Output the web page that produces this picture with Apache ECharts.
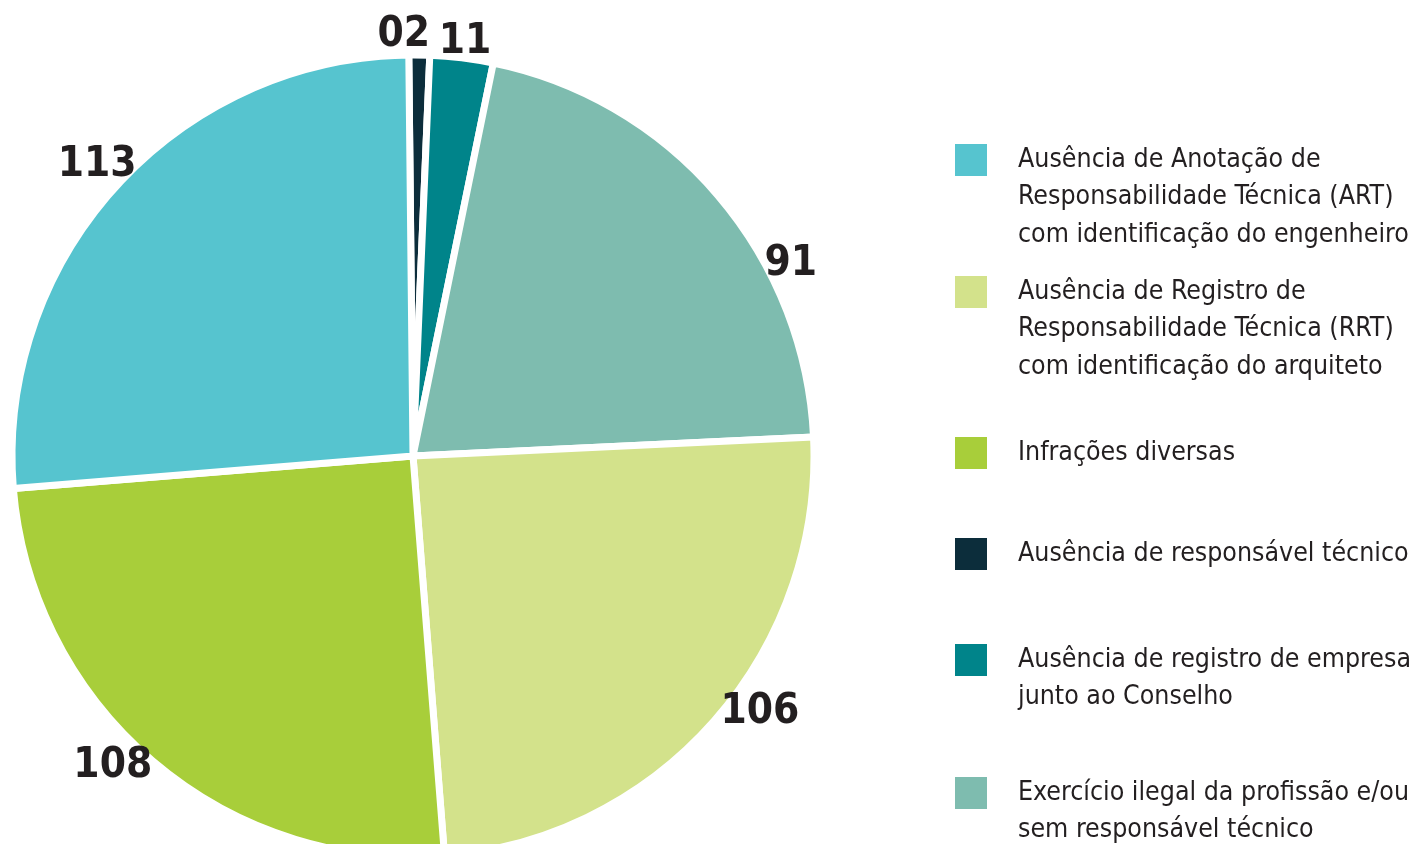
<!DOCTYPE html>
<html>
<head>
<meta charset="utf-8">
<script src="https://cdn.jsdelivr.net/npm/echarts@6/dist/echarts.min.js"></script>
<style>
  html, body { margin: 0; padding: 0; background: #fff; }
  #chart { width: 1425px; height: 844px; }
</style>
</head>
<body>
<div id="chart"></div>
<script>
// dados (ordem horária a partir do topo)
var categories = [
  'Ausência de responsável técnico',
  'Ausência de registro de empresa\njunto ao Conselho',
  'Exercício ilegal da profissão e/ou\nsem responsável técnico',
  'Ausência de Registro de\nResponsabilidade Técnica (RRT)\ncom identificação do arquiteto',
  'Infrações diversas',
  'Ausência de Anotação de\nResponsabilidade Técnica (ART)\ncom identificação do engenheiro'
];
var values = [2, 11, 91, 106, 108, 113];
var colors = ['#0c2d3b', '#00848a', '#7ebcaf', '#d3e28b', '#a8ce3a', '#56c4cf'];
// ordem da legenda
var legendOrder = [5, 3, 4, 0, 1, 2];

(function () {
  var myChart = echarts.init(document.getElementById('chart'));

  var textColor = '#231f20';
  var numFont = "'Liberation Sans Narrow', 'DejaVu Sans Condensed', sans-serif";
  var legFont = "'DejaVu Sans Condensed', sans-serif";
  var lineH = 37.5;
  var iconCenters = [160, 292, 453, 554, 660, 793];
  // pequenos ajustes dos rótulos
  var nudges = [[-16, 8], [0, 12], [52, 87], [25, -28], [-22, -16], [1, -2]];

  // uma legenda por item, o ícone alinhado com a primeira linha do texto
  var legends = legendOrder.map(function (idx, i) {
    var n = categories[idx].split('\n').length;
    var blank = '';
    for (var k = 1; k < n; k++) blank += ' \n';
    return {
      left: 953,
      top: iconCenters[i] - (2 * n - 1) * lineH / 2,
      padding: 0,
      orient: 'vertical',
      selectedMode: false,
      icon: 'rect',
      itemWidth: 34,
      itemHeight: 34,
      itemGap: 0,
      data: [categories[idx]],
      formatter: function (name) {
        return blank + name;
      },
      textStyle: {
        color: textColor,
        fontFamily: legFont,
        fontSize: 26.5,
        lineHeight: lineH,
        padding: [0, 0, 0, 25]
      }
    };
  });

  var option = {
    backgroundColor: '#fff',
    animation: false,
    color: colors,
    legend: legends,
    series: [
      {
        type: 'pie',
        center: [413, 456],
        radius: 401,
        startAngle: 90.6,
        clockwise: true,
        minAngle: 3,
        avoidLabelOverlap: false,
        data: categories.map(function (name, i) {
          return { name: name, value: values[i] };
        }),
        itemStyle: {
          borderColor: '#fff',
          borderWidth: 7
        },
        label: {
          show: true,
          position: 'outside',
          color: textColor,
          fontFamily: numFont,
          fontWeight: 'bold',
          fontSize: 42,
          formatter: function (p) {
            return String(p.value).padStart(2, '0');
          }
        },
        labelLine: {
          show: false,
          length: 28,
          length2: 0
        },
        labelLayout: function (p) {
          var d = nudges[p.dataIndex];
          var pts = p.labelLinePoints;
          if (pts && pts.length) {
            var end = pts[pts.length - 1];
            return { x: end[0] + d[0], y: end[1] + d[1], align: 'center', verticalAlign: 'middle' };
          }
          return { dx: d[0], dy: d[1] };
        },
        emphasis: { disabled: true }
      }
    ]
  };
  myChart.setOption(option);
}());
</script>
</body>
</html>
